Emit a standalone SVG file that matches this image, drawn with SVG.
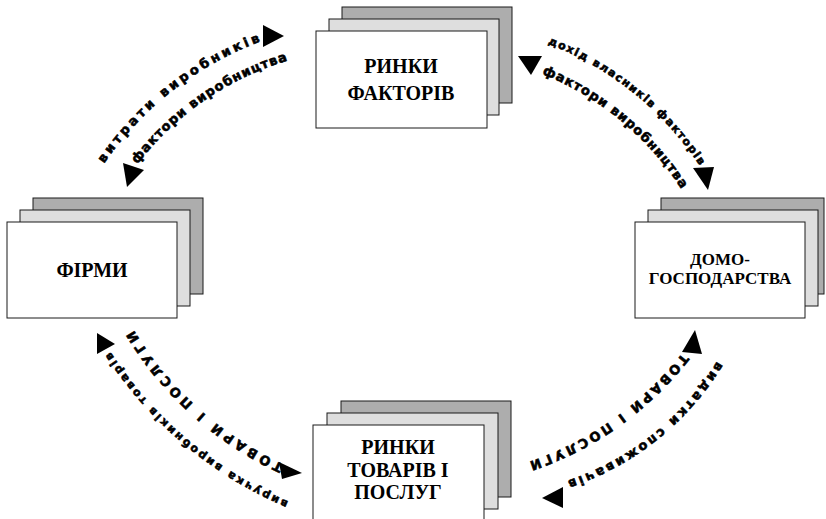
<svg xmlns="http://www.w3.org/2000/svg" width="826" height="519" viewBox="0 0 826 519">
<style>
.back{fill:#adadad;stroke:#1a1a1a;stroke-width:1}
.mid{fill:#dedede;stroke:#1a1a1a;stroke-width:1}
.front{fill:#ffffff;stroke:#1a1a1a;stroke-width:1}
.lbl{font-family:"Liberation Serif","Times New Roman",serif;font-weight:bold;font-size:20px;fill:#000;text-anchor:middle}
.arc{font-family:"DejaVu Sans","Liberation Sans",sans-serif;font-weight:bold;font-size:13px;fill:#000;stroke:#000;stroke-width:0.6}
.sm{font-size:11px}
.arr{fill:#000}
</style>
<defs>
<path id="p1" d="M69.7,218.5 A330,330 0 0 1 321.9,21.5"/>
<path id="p2" d="M103.7,210.8 A300,300 0 0 1 343.1,45.6"/>
<path id="p3" d="M488.5,24 A320,320 0 0 1 731.6,219.1"/>
<path id="p4" d="M488.1,53.9 A300,300 0 0 1 711,238.6"/>
<path id="p5" d="M362.7,528.1 A400,400 0 0 1 71.2,283.5"/>
<path id="p6" d="M346.1,491.7 A350,350 0 0 1 99.9,270.7"/>
<path id="p7" d="M745.2,309.9 A280,280 0 0 1 511.2,497"/>
<path id="p8" d="M720.5,301.6 A330,330 0 0 1 467.9,481.1"/>
</defs>
<g id="node-factors">
<rect class="back" x="342" y="7" width="170" height="96"/>
<rect class="mid" x="329" y="19" width="170" height="96"/>
<rect class="front" x="316" y="31" width="171" height="97"/>
<text class="lbl" x="401" y="73">РИНКИ</text>
<text class="lbl" x="401" y="100">ФАКТОРІВ</text>
</g>
<g id="node-firms">
<rect class="back" x="33" y="198" width="170" height="96"/>
<rect class="mid" x="20" y="210" width="170" height="96"/>
<rect class="front" x="7" y="222" width="170" height="96"/>
<text class="lbl" x="92" y="277">ФІРМИ</text>
</g>
<g id="node-households">
<rect class="back" x="661" y="198" width="163" height="96"/>
<rect class="mid" x="648" y="210" width="170" height="96"/>
<rect class="front" x="635" y="222" width="170" height="96"/>
<text class="lbl" x="720" y="265" style="font-size:17px">ДОМО-</text>
<text class="lbl" x="720" y="284" style="font-size:17px">ГОСПОДАРСТВА</text>
</g>
<g id="node-goods">
<rect class="back" x="341" y="401" width="170" height="96"/>
<rect class="mid" x="327" y="413" width="171" height="96"/>
<rect class="front" x="313" y="425" width="171" height="100"/>
<text class="lbl" x="398" y="454">РИНКИ</text>
<text class="lbl" x="398" y="477">ТОВАРІВ І</text>
<text class="lbl" x="398" y="499">ПОСЛУГ</text>
</g>
<g id="connectors">
<text class="arc" dy="4" textLength="204" lengthAdjust="spacing"><textPath href="#p1" startOffset="50%" text-anchor="middle">витрати виробників</textPath></text>
<text class="arc" dy="4" textLength="188" lengthAdjust="spacing"><textPath href="#p2" startOffset="50%" text-anchor="middle">фактори виробництва</textPath></text>
<text class="arc sm" dy="3.5" textLength="200" lengthAdjust="spacing"><textPath href="#p3" startOffset="50%" text-anchor="middle">дохід власників факторів</textPath></text>
<text class="arc" dy="4" textLength="186" lengthAdjust="spacing"><textPath href="#p4" startOffset="50%" text-anchor="middle">фактори виробництва</textPath></text>
<text class="arc sm" dy="3.5" textLength="238" lengthAdjust="spacing"><textPath href="#p5" startOffset="50%" text-anchor="middle">виручка виробників товарів</textPath></text>
<text class="arc" dy="5" textLength="207" lengthAdjust="spacing"><textPath href="#p6" startOffset="50%" text-anchor="middle">ТОВАРИ І ПОСЛУГИ</textPath></text>
<text class="arc" dy="4" textLength="198" lengthAdjust="spacing"><textPath href="#p7" startOffset="50%" text-anchor="middle">видатки споживачів</textPath></text>
<text class="arc" dy="5" textLength="193" lengthAdjust="spacing"><textPath href="#p8" startOffset="50%" text-anchor="middle">ТОВАРИ І ПОСЛУГИ</textPath></text>
<polygon class="arr" points="263,25 284,36 263,47"/>
<polygon class="arr" points="123,163 144,170 127,187"/>
<polygon class="arr" points="518,56 542,56 531,75"/>
<polygon class="arr" points="693,168 714,167 708,190"/>
<polygon class="arr" points="97,333 115,344 97,354"/>
<polygon class="arr" points="279,462 302,473 282,479"/>
<polygon class="arr" points="682,352 702,354 695,330"/>
<polygon class="arr" points="542,498 563,487 563,508"/>
</g>
</svg>
